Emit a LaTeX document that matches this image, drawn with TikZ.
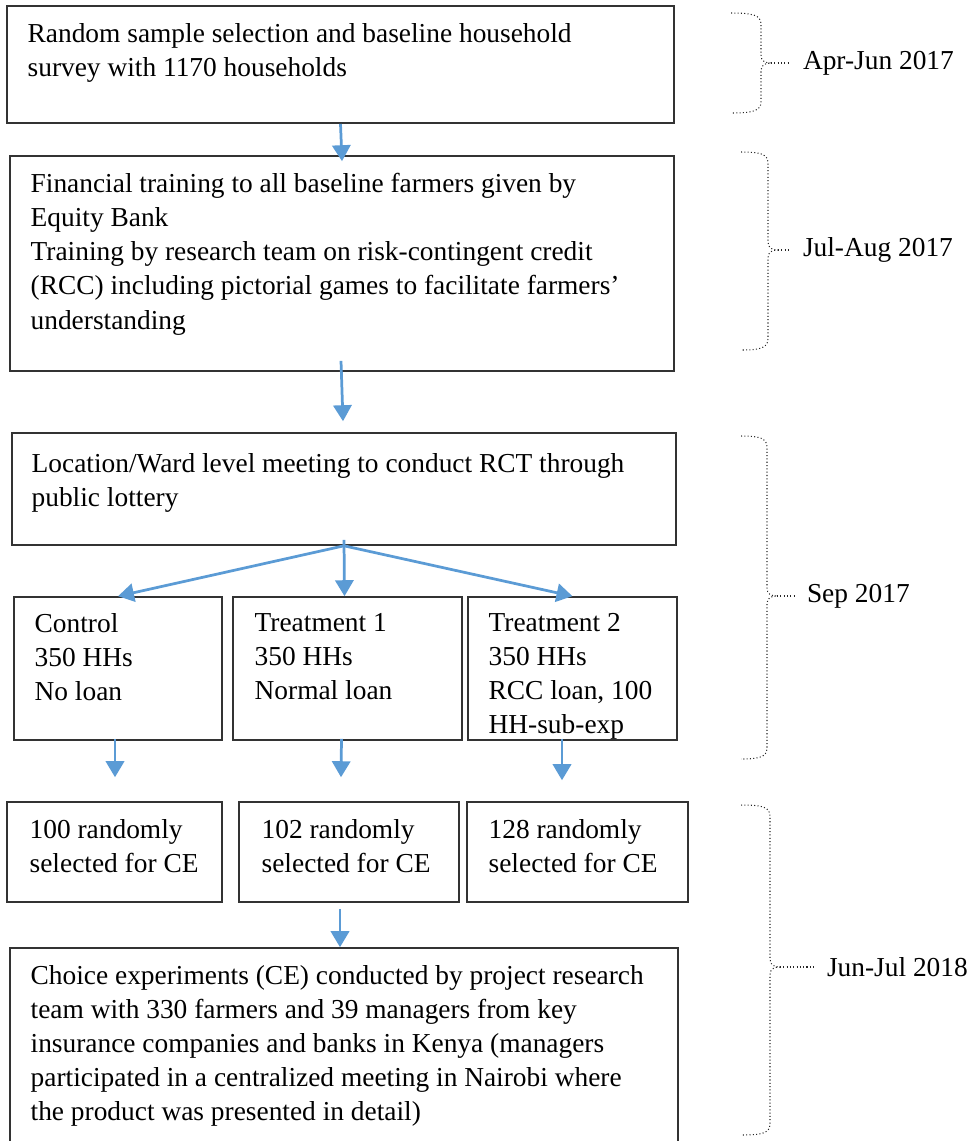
\documentclass[tikz,border=0pt]{standalone}
\usepackage{fontspec}
\setmainfont{Liberation Serif}
\usetikzlibrary{fit,arrows.meta}

\definecolor{flowblue}{RGB}{91,155,213}

\tikzset{
    stage/.style={draw=black!80, line width=0.7pt, inner sep=0pt},
    stagetext/.style={anchor=north west, inner sep=0pt, align=left, font=\fontsize{12}{14.9}\selectfont},
    flow/.style={draw=flowblue, line width=1.2pt, -{Triangle[length=7pt, width=8pt]}},
    period/.style={draw=black!85, line width=0.45pt, densely dotted},
    periodtext/.style={anchor=west, inner sep=5.5pt, font=\fontsize{12}{14.9}\selectfont}
}

\begin{document}
\begin{tikzpicture}[x=0.0154cm, y=-0.0154cm]
                \useasboundingbox (0, 0) rectangle (976, 1141);
                % Boxes:
                \node[stage, fit={(7, 6) (674, 123)}] (survey) {};
                \node[stage, fit={(10, 156) (674, 371)}] (training) {};
                \node[stage, fit={(12, 433) (676, 545)}] (lottery) {};
                \node[stage, fit={(14, 597) (222, 740)}] (control) {};
                \node[stage, fit={(233, 597) (462, 740)}] (treat1) {};
                \node[stage, fit={(468, 597) (677, 740)}] (treat2) {};
                \node[stage, fit={(7, 802) (222, 902)}] (sel0) {};
                \node[stage, fit={(239, 802) (459, 902)}] (sel1) {};
                \node[stage, fit={(467, 802) (688, 902)}] (sel2) {};
                \node[stage, fit={(10, 948) (678, 1160)}] (choice) {};
                % Texts:
                \node[stagetext] (survey-txt) at ([shift={(21, 18)}]survey.north west)
                    {Random sample selection and baseline household\\survey with 1170 households};
                \node[stagetext] (training-txt) at ([shift={(21, 18)}]training.north west)
                    {Financial training to all baseline farmers given by\\Equity Bank\\Training by research team on risk-contingent credit\\(RCC) including pictorial games to facilitate farmers’\\understanding};
                \node[stagetext] (lottery-txt) at ([shift={(20, 21)}]lottery.north west)
                    {Location/Ward level meeting to conduct RCT through\\public lottery};
                \node[stagetext] (control-txt) at ([shift={(21, 17)}]control.north west) {Control\\350 HHs\\No loan};
                \node[stagetext] (treat1-txt) at ([shift={(22, 17)}]treat1.north west) {Treatment 1\\350 HHs\\Normal loan};
                \node[stagetext] (treat2-txt) at ([shift={(21, 17)}]treat2.north west) {Treatment 2\\350 HHs\\RCC loan, 100\\HH-sub-exp};
                \node[stagetext] (sel0-txt) at ([shift={(23, 18)}]sel0.north west) {100 randomly\\selected for CE};
                \node[stagetext] (sel1-txt) at ([shift={(23, 18)}]sel1.north west) {102 randomly\\selected for CE};
                \node[stagetext] (sel2-txt) at ([shift={(22, 18)}]sel2.north west) {128 randomly\\selected for CE};
                \node[stagetext] (choice-txt) at ([shift={(21, 18)}]choice.north west)
                    {Choice experiments (CE) conducted by project research\\team with 330 farmers and 39 managers from key\\insurance companies and banks in Kenya (managers\\participated in a centralized meeting in Nairobi where\\the product was presented in detail)};
                % Arrows:
                \draw[flow] (survey.south) -- ([shift={(0, 6)}]training.north);
                \draw[flow] ([shift={(-1, -11)}]training.south) -- ([shift={(-1, -11)}]lottery.north);
                \draw[flow] (lottery.south) -- (control.north);
                \draw[flow] ([shift={(0, -6)}]lottery.south) -- ([shift={(-3, 0)}]treat1.north);
                \draw[flow] (lottery.south) -- (treat2.north);
                \draw[flow] ([shift={(-3, -2)}]control.south) -- ([shift={(0.5, -24)}]sel0.north);
                \draw[flow] ([shift={(-6, -2)}]treat1.south) -- ([shift={(-8, -24)}]sel1.north);
                \draw[flow] ([shift={(-10.5, -2)}]treat2.south) -- ([shift={(-15.5, -21)}]sel2.north);
                \draw[flow] ([shift={(-9, 6)}]sel1.south) -- ([shift={(-4, 0)}]choice.north);
                % Periods:
                \node[periodtext] (apr) at (790, 63) {Apr-Jun 2017};
                \node[periodtext] (jul) at (790, 250) {Jul-Aug 2017};
                \node[periodtext] (sep) at (794, 596) {Sep 2017};
                \node[periodtext] (jun) at (814, 967) {Jun-Jul 2018};
                \draw[period] (731, 13) .. controls (752, 13) and (761, 15) .. (761, 24) -- (761, 55)
                    .. controls (761, 61) and (765, 63) .. (771, 63) .. controls (765, 63) and (761, 65) .. (761, 71)
                    -- (761, 102) .. controls (761, 111) and (752, 113) .. (731, 113);
                \draw[period] (771, 63) -- (apr.west);
                \draw[period] (741, 152) .. controls (760, 152) and (768, 154) .. (768, 163) -- (768, 242)
                    .. controls (768, 248) and (772, 250) .. (778, 250) .. controls (772, 250) and (768, 252) .. (768, 258)
                    -- (768, 339) .. controls (768, 348) and (760, 350) .. (741, 350);
                \draw[period] (778, 250) -- (jul.west);
                \draw[period] (741, 436) .. controls (759, 436) and (767, 438) .. (767, 447) -- (767, 588)
                    .. controls (767, 594) and (771, 596) .. (777, 596) .. controls (771, 596) and (767, 598) .. (767, 604)
                    -- (767, 748) .. controls (767, 757) and (759, 759) .. (741, 759);
                \draw[period] (777, 596) -- (sep.west);
                \draw[period] (741, 805) .. controls (762, 805) and (770, 807) .. (770, 816) -- (770, 959)
                    .. controls (770, 965) and (774, 967) .. (780, 967) .. controls (774, 967) and (770, 969) .. (770, 975)
                    -- (770, 1124) .. controls (770, 1133) and (762, 1135) .. (741, 1135);
                \draw[period] (780, 967) -- (jun.west);
            \end{tikzpicture}
\end{document}
